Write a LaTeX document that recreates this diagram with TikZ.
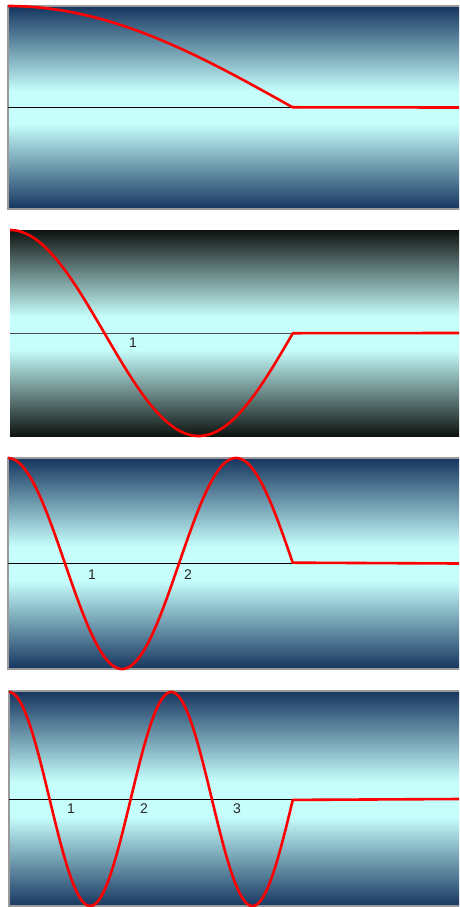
\documentclass[tikz,border=0pt]{standalone}
\usepackage{fontspec}
\setmainfont{Liberation Sans}
\definecolor{navy}{HTML}{16355F}
\definecolor{cy}{HTML}{C6FEFC}
\definecolor{blk}{HTML}{0E1311}
\definecolor{edge}{HTML}{9A9A9A}
\pgfdeclareverticalshading{bluebar}{100bp}{color(0bp)=(navy); color(25bp)=(navy); color(46bp)=(cy); color(54bp)=(cy); color(75bp)=(navy); color(100bp)=(navy)}
\pgfdeclareverticalshading{darkbar}{100bp}{color(0bp)=(blk); color(25bp)=(blk); color(46bp)=(cy); color(54bp)=(cy); color(75bp)=(blk); color(100bp)=(blk)}
\begin{document}
\begin{tikzpicture}[x=1pt,y=-1pt,
  wave/.style={red,line width=2.6pt,line join=round},
  axisline/.style={black,line width=0.9pt},
  frame/.style={edge,line width=2pt},
  lbl/.style={font=\fontsize{14}{14}\selectfont,text=black!85,inner sep=0pt}]
\useasboundingbox (0,0) rectangle (459,907);
% panel 1
\shade[shading=bluebar] (8,6) rectangle (459,209);
\draw[frame] (459,6) -- (8,6) -- (8,209) -- (459,209);
\draw[axisline] (8,107.5) -- (459,107.5);
\draw[wave] plot[domain=0:1,samples=120] ({8+285*\x},{107.5-101.5*cos(90*\x)}) -- (459,107.5);
% panel 2
\shade[shading=darkbar] (10,230) rectangle (459,436);
\draw[axisline,black!70] (10,333) -- (459,333);
\draw[wave] plot[domain=0:1,samples=160] ({10+283*\x},{333-103*cos(270*\x)}) -- (459,333);
\node[lbl] (p2a) at (133,343) {1};
% panel 3
\shade[shading=bluebar] (8,458) rectangle (459,669);
\draw[frame] (459,458) -- (8,458) -- (8,669) -- (459,669);
\draw[axisline] (8,563.5) -- (459,563.5);
\draw[wave] plot[domain=0:1,samples=200] ({8+285*\x},{563.5-105.5*cos(450*\x)}) -- (459,563.5);
\node[lbl] (p3a) at (92,575) {1};
\node[lbl] (p3b) at (188,575) {2};
% panel 4
\shade[shading=bluebar] (9,691) rectangle (459,907);
\draw[frame] (459,691) -- (9,691) -- (9,906) -- (459,906);
\draw[axisline] (9,799) -- (459,799);
\draw[wave] plot[domain=0:1,samples=240] ({9+284*\x},{799-107*cos(630*\x)}) -- (459,799);
\node[lbl] (p4a) at (71,809) {1};
\node[lbl] (p4b) at (144,809) {2};
\node[lbl] (p4c) at (237,809) {3};
\end{tikzpicture}
\end{document}
